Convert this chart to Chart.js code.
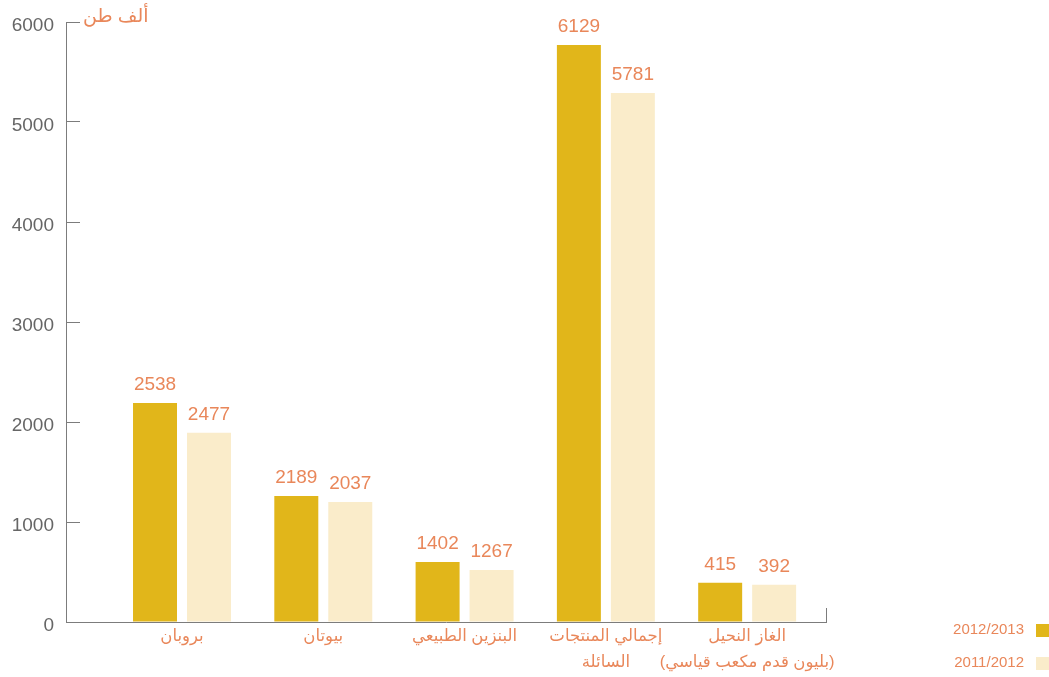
<!DOCTYPE html>
<html lang="ar">
<head>
<meta charset="utf-8">
<script src="https://cdn.jsdelivr.net/npm/chart.js@4"></script>
<style>
  html, body { margin: 0; padding: 0; background: #fff; }
  #wrap { width: 1049px; height: 677px; }
</style>
</head>
<body>
<div id="wrap"><canvas id="myChart" dir="rtl"></canvas></div>
<script>
// Données
const categories = [
  ["بروبان"],
  ["بيوتان"],
  ["البنزين الطبيعي"],
  ["إجمالي المنتجات", "السائلة"],
  ["الغاز النحيل", "(بليون قدم مكعب قياسي)"],
];
const seriesNames = ["2012/2013", "2011/2012"];
// hauteur des barres telle que dessinée
const bars2013 = [2190, 1260, 600, 5770, 393];
const bars2012 = [1893, 1200, 520, 5290, 373];
// chiffres imprimés au-dessus des barres
const labels2013 = ["2538", "2189", "1402", "6129", "415"];
const labels2012 = ["2477", "2037", "1267", "5781", "392"];
const yTicks = [0, 1000, 2000, 3000, 4000, 5000, 6000];
const unitLabel = "ألف طن";

const FONT = "'Liberation Sans', 'DejaVu Sans', sans-serif";
const ORANGE = "#e9875a";
const GOLD = "#e1b61a";
const CREAM = "#faecca";
const AXIS = "#7c7c7c";

Chart.defaults.font.family = FONT;

// Textes additionnels : valeurs, unité, légende
const extrasPlugin = {
  id: "extras",
  afterDatasetsDraw: (chart) => {
    const { ctx, chartArea, scales } = chart;
    ctx.save();
    ctx.fillStyle = ORANGE;
    ctx.font = "19px " + FONT;
    ctx.textAlign = "center";
    ctx.textBaseline = "middle";
    const printed = [labels2013, labels2012];
    chart.data.datasets.forEach((ds, d) => {
      chart.getDatasetMeta(d).data.forEach((bar, i) => {
        ctx.fillText(printed[d][i], bar.x, bar.y - 18);
      });
    });

    // unité
    ctx.font = "19px " + FONT;
    ctx.textAlign = "left";
    ctx.fillText(unitLabel, scales.y.right + 17, chartArea.top - 5);

    // petite marque au bout de l'axe x
    ctx.strokeStyle = AXIS;
    ctx.lineWidth = 1;
    ctx.beginPath();
    ctx.moveTo(chartArea.right + 0.5, chartArea.bottom);
    ctx.lineTo(chartArea.right + 0.5, chartArea.bottom - 14);
    ctx.stroke();

    // légende
    const colors = [GOLD, CREAM];
    ctx.font = "15px " + FONT;
    ctx.textAlign = "right";
    seriesNames.forEach((name, i) => {
      const y = 630 + i * 33;
      ctx.fillStyle = ORANGE;
      ctx.fillText(name, 1024, y);
      ctx.fillStyle = colors[i];
      ctx.fillRect(1036, y - 6, 13, 13);
    });
    ctx.restore();
  },
};

const ctx = document.getElementById("myChart").getContext("2d");
const myChart = new Chart(ctx, {
  type: "bar",
  data: {
    labels: categories,
    datasets: [
      { label: seriesNames[0], data: bars2013, backgroundColor: GOLD },
      { label: seriesNames[1], data: bars2012, backgroundColor: CREAM },
    ],
  },
  options: {
    responsive: true,
    maintainAspectRatio: false,
    animation: false,
    layout: { padding: { top: 22, right: 223, bottom: 0, left: 0 } },
    datasets: {
      bar: { barPercentage: 0.815, categoryPercentage: 0.764 },
    },
    plugins: {
      legend: { display: false },
      tooltip: { enabled: false },
    },
    scales: {
      x: {
        grid: { display: true, drawOnChartArea: false, drawTicks: false },
        border: { display: true, color: AXIS, width: 1 },
        ticks: {
          color: ORANGE,
          font: { size: 16.5, lineHeight: 1.58 },
          padding: 1,
          maxRotation: 0,
          autoSkip: false,
        },
        afterBuildTicks: (scale) => {
          // espacement des groupes
          scale._startValue = -0.821;
          scale._valueRange = 5.379;
        },
        afterFit: (scale) => {
          scale.height = 55;
          scale.paddingLeft = 0;
          scale.paddingRight = 0;
        },
      },
      y: {
        min: 0,
        max: 6000,
        afterBuildTicks: (scale) => {
          scale.ticks = yTicks.map((v) => ({ value: v }));
        },
        grid: { drawOnChartArea: false, drawTicks: true, tickLength: -14, color: AXIS },
        border: { display: true, color: AXIS, width: 1 },
        ticks: {
          color: "#666666",
          font: { size: 19 },
          padding: 26,
          labelOffset: 4,
          callback: (v) => String(v),
        },
        afterFit: (scale) => {
          scale.width = 66;
          scale.paddingTop = 0;
          scale.paddingBottom = 0;
        },
      },
    },
  },
  plugins: [extrasPlugin],
});
</script>
</body>
</html>
